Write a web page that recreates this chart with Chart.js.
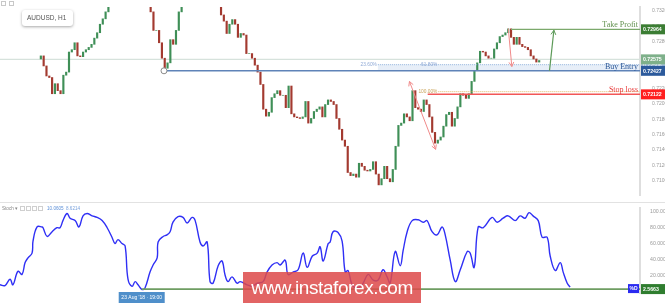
<!DOCTYPE html>
<html>
<head>
<meta charset="utf-8">
<script src="https://cdn.jsdelivr.net/npm/chart.js@4.4.0/dist/chart.umd.min.js"></script>
<style>
    body { margin: 0; background: #fff; width: 665px; height: 303px; overflow: hidden; position: relative; font-family: 'Liberation Sans', Arial, sans-serif; }
    #cajaPrecio { position: absolute; left: 0; top: 0; width: 665px; height: 202px; }
    #cajaStoch { position: absolute; left: 0; top: 202px; width: 665px; height: 101px; border-top: 1px solid #e2e2e2; box-sizing: border-box; }
    .simbolo { position: absolute; left: 22px; top: 10px; width: 51px; height: 16px; background: #fff; border-radius: 3px;
        box-shadow: 0 1px 3px rgba(0,0,0,.35); font-size: 6.5px; color: #555; line-height: 16px; padding-left: 5px; box-sizing: border-box; }
    .marca { position: absolute; left: 243px; top: 272px; width: 178px; height: 31px; background: rgba(221,74,74,.86);
        color: #fff; font-size: 19px; line-height: 31px; text-align: center; letter-spacing: -0.4px; }
</style>
</head>
<body>
<div id="cajaPrecio"><canvas id="chartPrecio" width="665" height="202"></canvas></div>
<div id="cajaStoch"><canvas id="chartStoch" width="665" height="100"></canvas></div>
<div class="simbolo">AUDUSD, H1</div>
<div class="marca">www.instaforex.com</div>
<script>
// Fuentes
const familia = "'Liberation Sans', Arial, sans-serif";
const familiaSerif = "'Liberation Serif', 'DejaVu Serif', serif";

// Eje de tiempo: días hábiles desde el 15 Ago (0 = 15 Ago 00:00)
const ejeMin = -0.55;
const ejeMax = 32.6;
const diasEtiquetas = [0, 3, 5, 7, 8, 10, 13, 15, 18, 20, 23, 25, 28, 30, 32];
const textosEtiquetas = ['15', '20', '22', '24', '27', '29', 'Sep', '5', '10', '12', '17', '19', '24', '26', '28'];

// Velas de 4 horas (cierres aproximados leídos del gráfico H1)
const inicioVelas = -0.5;
const pasoVela = 1 / 6;
const aperturaInicial = 0.7258;
const cierres = [
    0.7262, 0.7249, 0.7236, 0.7234, 0.7213, 0.7226, 0.7217, 0.7213, 0.7237, 0.7241, 0.7267, 0.7270, 0.7279, 0.7262, 0.7261, 0.7267, 0.7270, 0.7273, 0.7277, 0.7285, 0.7292,
    0.7303, 0.7310, 0.7319, 0.7328,
    0.7334, 0.7339, 0.7337, 0.7343, 0.7346, 0.7349, 0.7355, 0.7358, 0.7361, 0.7363, 0.7361, 0.7358, 0.7349, 0.7339,
    0.7319, 0.7295, 0.7295, 0.7279, 0.7259, 0.7246, 0.7253, 0.7283, 0.7277, 0.7295, 0.7319, 0.7331,
    0.7337, 0.7339, 0.7343, 0.7346, 0.7343, 0.7349, 0.7351, 0.7346, 0.7343, 0.7337, 0.7334, 0.7331, 0.7327,
    0.7315, 0.7307, 0.7291, 0.7303, 0.7309, 0.7303, 0.7286, 0.7291, 0.7289, 0.7265, 0.7265, 0.7259, 0.7250, 0.7241,
    0.7225, 0.7193, 0.7184, 0.7189, 0.7208, 0.7213, 0.7217, 0.7211, 0.7211, 0.7195, 0.7223, 0.7187, 0.7183, 0.7182, 0.7181, 0.7183,
    0.7203, 0.7175, 0.7181, 0.7190, 0.7193, 0.7196, 0.7183, 0.7199, 0.7205, 0.7203, 0.7199, 0.7181, 0.7167, 0.7153, 0.7145,
    0.7111, 0.7107, 0.7109, 0.7105, 0.7123, 0.7119, 0.7114, 0.7113, 0.7115, 0.7125, 0.7109, 0.7095, 0.7103, 0.7119, 0.7103, 0.7099,
    0.7115, 0.7145, 0.7172, 0.7175, 0.7187, 0.7183, 0.7178, 0.7217, 0.7195, 0.7193, 0.7190, 0.7205, 0.7199, 0.7183, 0.7163, 0.7149,
    0.7153, 0.7157, 0.7171, 0.7186, 0.7189, 0.7171, 0.7181, 0.7196, 0.7213, 0.7211, 0.7207, 0.7213, 0.7229, 0.7243, 0.7253,
    0.7268, 0.7267, 0.7262, 0.7259, 0.7259, 0.7271, 0.7279, 0.7287, 0.7289, 0.7292, 0.7297, 0.7286, 0.7277, 0.7286, 0.7277, 0.7274, 0.7273, 0.7270, 0.7262, 0.7258, 0.7254, 0.7256
];

// Estocástico %K
const diasStoch = [
    -0.55, -0.29, -0.03, 0.12, 0.38, 0.59, 0.75, 0.90, 1.11, 1.16, 1.37, 1.63, 1.68, 1.89, 2.15, 2.40, 2.56, 2.71, 2.92, 3.08,
    3.34, 3.54, 3.75, 3.96, 4.22, 4.48, 4.74, 5.00, 5.25, 5.41, 5.56, 5.77, 5.93, 6.08, 6.29, 6.45, 6.60, 6.81, 6.96, 7.22,
    7.38, 7.59, 7.64, 7.90, 8.10, 8.26, 8.41, 8.67, 8.93, 9.14, 9.40, 9.56, 9.81, 9.97, 10.18, 10.33, 10.49, 10.75, 10.95, 11.11,
    11.26, 11.47, 11.73, 11.89, 12.25, 12.51, 12.77, 13.08, 13.28, 13.54, 13.80, 13.96, 14.22, 14.37, 14.63, 14.89, 15.15, 15.36, 15.62, 15.88,
    16.03, 16.19, 16.45, 16.55, 16.70, 16.96, 17.17, 17.33, 17.48, 17.69, 17.95, 18.21, 18.52, 18.78, 19.04, 19.29, 19.50, 19.66, 19.92, 20.18,
    20.33, 20.54, 20.80, 21.11, 21.37, 21.57, 21.83, 22.09, 22.35, 22.51, 22.77, 23.03, 23.29, 23.65, 23.80, 24.01, 24.22, 24.48, 24.94, 25.20,
    25.51, 25.77, 26.13, 26.39, 26.65, 26.85, 27.06, 27.33, 27.53, 27.79, 27.95, 28.21, 28.47, 28.62, 28.83, 28.98
];
const valoresStoch = [
    8, 7, 15, 8, 25, 21, 36, 42, 48, 63, 81, 81, 80, 69, 75, 80, 80, 89, 98, 92,
    89, 81, 95, 98, 95, 93, 89, 80, 68, 60, 65, 60, 57, 15, 6, 12, 8, 2, 4, 24,
    33, 42, 62, 69, 71, 75, 87, 94, 93, 86, 93, 89, 62, 57, 62, 12, 10, 32, 38, 20,
    12, 18, 10, 12, 8, 6, 10, 12, 24, 33, 36, 33, 39, 21, 24, 27, 48, 30, 44, 48,
    56, 38, 60, 62, 75, 74, 63, 24, 26, 8, 4, 8, 21, 14, 14, 27, 18, 10, 50, 32,
    51, 75, 89, 90, 87, 89, 75, 71, 81, 71, 39, 12, 27, 50, 48, 30, 81, 80, 93, 87,
    92, 95, 89, 95, 92, 99, 95, 89, 68, 68, 44, 26, 36, 24, 10, 5
];

// Niveles dibujados
const nivelTakeProfit = 0.72964;
const nivelReferencia = 0.72575;
const nivelFib236 = 0.72506;
const nivelBuyEntry = 0.72427;
const nivelFib100 = 0.72157;
const nivelStopLoss = 0.72122;
const valorStochD = 2.5663;
const valorStochK = '10.0605';
const valorStochSlow = '8.6214';

// Tiempos de las herramientas (días hábiles)
const diaEntrada = 6.79;        // 23 Aug '18 19:00
const inicioFib1 = 19.45;
const inicioFib2 = 23.03;
const inicioStop = 22.40;
const inicioTake = 27.33;
const flechaVerde = [[29.61, 0.72427], [29.87, 0.72952]];
const flechaRoja = [[27.17, 0.72976], [27.38, 0.72482]];
const flechaDoble = [[21.32, 0.72289], [22.87, 0.71410]];

const aperturas = cierres.map((c, i) => i === 0 ? aperturaInicial : cierres[i - 1]);
const velas = cierres.map((c, i) => ({ x: inicioVelas + i * pasoVela, y: [aperturas[i], c] }));
const coloresVelas = cierres.map((c, i) => c >= aperturas[i] ? '#3f8f57' : '#a33a30');

function linea(ctx, x1, y1, x2, y2, color, ancho, guion) {
    ctx.save();
    ctx.strokeStyle = color;
    ctx.lineWidth = ancho;
    ctx.setLineDash(guion || []);
    ctx.beginPath();
    ctx.moveTo(x1, y1);
    ctx.lineTo(x2, y2);
    ctx.stroke();
    ctx.restore();
}

function punta(ctx, xa, ya, xb, yb, color) {
    // punta de flecha en (xb, yb)
    const ang = Math.atan2(yb - ya, xb - xa);
    ctx.save();
    ctx.strokeStyle = color;
    ctx.lineWidth = 1;
    ctx.beginPath();
    ctx.moveTo(xb - 5 * Math.cos(ang - 0.5), yb - 5 * Math.sin(ang - 0.5));
    ctx.lineTo(xb, yb);
    ctx.lineTo(xb - 5 * Math.cos(ang + 0.5), yb - 5 * Math.sin(ang + 0.5));
    ctx.stroke();
    ctx.restore();
}

function texto(ctx, t, x, y, color, fuente, alin) {
    ctx.save();
    ctx.fillStyle = color;
    ctx.font = fuente;
    ctx.textAlign = alin || 'left';
    ctx.textBaseline = 'middle';
    ctx.fillText(t, x, y);
    ctx.restore();
}

function etiquetaEje(ctx, t, x, y, fondo) {
    ctx.save();
    ctx.fillStyle = fondo;
    ctx.fillRect(x, y - 5, 24, 10);
    ctx.restore();
    texto(ctx, t, x + 2, y + 0.5, '#fff', 'bold 5.2px ' + familia);
}

const dibujoPrecio = {
    id: 'dibujoPrecio',
    beforeDatasetsDraw(chart) {
        const { ctx, chartArea: a, scales: { x, y } } = chart;
        // zona de entrada
        ctx.save();
        ctx.fillStyle = 'rgba(120,160,215,0.18)';
        ctx.fillRect(x.getPixelForValue(inicioFib1), y.getPixelForValue(nivelFib236), a.right - x.getPixelForValue(inicioFib1),
            y.getPixelForValue(nivelBuyEntry) - y.getPixelForValue(nivelFib236));
        ctx.restore();
        linea(ctx, a.left, y.getPixelForValue(nivelReferencia), a.right, y.getPixelForValue(nivelReferencia), '#d6e2dc', 1.2);
    },
    afterDatasetsDraw(chart) {
        const { ctx, chartArea: a, scales: { x, y } } = chart;
        const px = v => x.getPixelForValue(v);
        const py = v => y.getPixelForValue(v);

        linea(ctx, px(inicioFib1), py(nivelFib236), a.right, py(nivelFib236), '#8fb0dc', 1, [1, 1]);
        linea(ctx, px(inicioFib2), py(nivelFib100), a.right, py(nivelFib100), '#e2b866', 1, [1, 1]);
        linea(ctx, px(diaEntrada), py(nivelBuyEntry), a.right, py(nivelBuyEntry), '#5f83b8', 1.6);
        linea(ctx, px(inicioStop), py(nivelStopLoss), a.right, py(nivelStopLoss), '#f25757', 1.5);
        linea(ctx, px(inicioTake), py(nivelTakeProfit), a.right, py(nivelTakeProfit), '#7ba96b', 1.2);

        texto(ctx, '23.60%', px(inicioFib1) - 1, py(nivelFib236), '#8fa9d6', '4.8px ' + familia, 'right');
        texto(ctx, '61.80%', px(inicioFib2) - 1, py(nivelFib236), '#8fa9d6', '4.8px ' + familia, 'right');
        texto(ctx, '100.00%', px(inicioFib2) - 1, py(nivelFib100), '#c9a35a', '4.8px ' + familia, 'right');

        texto(ctx, 'Take Profit', a.right - 2, py(nivelTakeProfit) - 4, '#5f8f4c', '8px ' + familiaSerif, 'right');
        texto(ctx, 'Buy Entry', a.right - 2, py(nivelBuyEntry) - 3.5, '#2b5797', '8px ' + familiaSerif, 'right');
        texto(ctx, 'Stop loss', a.right - 2, py(nivelStopLoss) - 4, '#e83a3a', '8px ' + familiaSerif, 'right');

        // flechas
        const [v1, v2] = flechaVerde;
        linea(ctx, px(v1[0]), py(v1[1]), px(v2[0]), py(v2[1]), '#5c9a58', 1.2);
        punta(ctx, px(v1[0]), py(v1[1]), px(v2[0]), py(v2[1]), '#5c9a58');
        const [r1, r2] = flechaRoja;
        linea(ctx, px(r1[0]), py(r1[1]), px(r2[0]), py(r2[1]), '#f08a8a', 1);
        punta(ctx, px(r1[0]), py(r1[1]), px(r2[0]), py(r2[1]), '#f08a8a');
        const [d1, d2] = flechaDoble;
        linea(ctx, px(d1[0]), py(d1[1]), px(d2[0]), py(d2[1]), '#f08a8a', 1);
        punta(ctx, px(d1[0]), py(d1[1]), px(d2[0]), py(d2[1]), '#f08a8a');
        punta(ctx, px(d2[0]), py(d2[1]), px(d1[0]), py(d1[1]), '#f08a8a');

        // punto de anclaje
        ctx.save();
        ctx.beginPath();
        ctx.arc(px(diaEntrada), py(nivelBuyEntry), 3, 0, Math.PI * 2);
        ctx.fillStyle = '#fff';
        ctx.fill();
        ctx.strokeStyle = '#8a8a8a';
        ctx.lineWidth = 1;
        ctx.stroke();
        ctx.restore();
    },
    afterDraw(chart) {
        const { ctx, chartArea: a, scales: { y } } = chart;
        const xe = a.right + 1;
        etiquetaEje(ctx, nivelFib236.toFixed(5), xe, y.getPixelForValue(nivelFib236), '#a9c2dc');
        etiquetaEje(ctx, nivelTakeProfit.toFixed(5), xe, y.getPixelForValue(nivelTakeProfit), '#3b7d33');
        etiquetaEje(ctx, nivelReferencia.toFixed(5), xe, y.getPixelForValue(nivelReferencia), '#7eb08a');
        etiquetaEje(ctx, nivelBuyEntry.toFixed(5), xe, y.getPixelForValue(nivelBuyEntry), '#2c5a9c');
        etiquetaEje(ctx, nivelStopLoss.toFixed(5), xe, y.getPixelForValue(nivelStopLoss), '#ff1f1f');
        // iconos arriba a la izquierda
        ctx.save();
        ctx.strokeStyle = '#c8c8c8';
        ctx.strokeRect(1.5, 1.5, 4, 4);
        ctx.strokeRect(9.5, 1.5, 4, 4);
        ctx.restore();
    }
};

const dibujoStoch = {
    id: 'dibujoStoch',
    afterDatasetsDraw(chart) {
        const { ctx, chartArea: a, scales: { x, y } } = chart;
        linea(ctx, x.getPixelForValue(diaEntrada), y.getPixelForValue(valorStochD), a.right, y.getPixelForValue(valorStochD), '#6e9d62', 1.6);
    },
    afterDraw(chart) {
        const { ctx, chartArea: a, scales: { x, y } } = chart;
        const yd = y.getPixelForValue(valorStochD);
        // %D y valor
        ctx.save();
        ctx.fillStyle = '#2a2af0';
        ctx.fillRect(a.right - 12, yd - 5, 11, 9);
        ctx.restore();
        texto(ctx, '%D', a.right - 6.5, yd - 0.5, '#fff', 'bold 5px ' + familia, 'center');
        etiquetaEje(ctx, valorStochD.toFixed(4), a.right + 1, yd, '#2f7d2f');

        // cabecera
        texto(ctx, 'Stoch ▾', 2, 5.5, '#888', '4.6px ' + familia);
        ctx.save();
        ctx.strokeStyle = '#cfcfcf';
        [20, 26, 32, 38].forEach(xx => ctx.strokeRect(xx + 0.5, 3.5, 4, 4));
        ctx.restore();
        texto(ctx, valorStochK, 47, 5.5, '#5b8fd8', '4.6px ' + familia);
        texto(ctx, valorStochSlow, 66, 5.5, '#7aa2dc', '4.6px ' + familia);

        // fecha del cursor
        const xc = x.getPixelForValue(diaEntrada);
        ctx.save();
        ctx.fillStyle = '#4f8fca';
        ctx.fillRect(xc - 23, a.bottom - 1, 46, 12);
        ctx.restore();
        texto(ctx, "23 Aug '18 \u00b7 19:00", xc, a.bottom + 5, '#fff', '5px ' + familia, 'center');
    }
};

new Chart(document.getElementById('chartPrecio'), {
    type: 'bar',
    data: {
        datasets: [{
            data: velas,
            backgroundColor: coloresVelas,
            borderWidth: 0,
            barThickness: 1.5
        }]
    },
    options: {
        responsive: false,
        animation: false,
        layout: { padding: 0, autoPadding: false },
        plugins: { legend: { display: false }, tooltip: { enabled: false } },
        scales: {
            x: { type: 'linear', min: ejeMin, max: ejeMax, display: false },
            y: {
                position: 'right',
                min: 0.70819,
                max: 0.73253,
                afterFit: s => { s.width = 25; },
                grid: { display: false },
                border: { display: true, color: '#dedede', width: 2 },
                ticks: {
                    stepSize: 0.002,
                    includeBounds: false,
                    padding: 4,
                    color: '#9a9a9a',
                    font: { size: 5, family: familia },
                    callback: v => v.toFixed(5)
                }
            }
        }
    },
    plugins: [dibujoPrecio]
});

new Chart(document.getElementById('chartStoch'), {
    type: 'line',
    data: {
        datasets: [{
            data: diasStoch.map((d, i) => ({ x: d, y: valoresStoch[i] })),
            borderColor: '#2f2ff5',
            borderWidth: 1.4,
            tension: 0.4,
            pointRadius: 0,
            fill: false
        }]
    },
    options: {
        responsive: false,
        animation: false,
        layout: { padding: 0, autoPadding: false },
        plugins: { legend: { display: false }, tooltip: { enabled: false } },
        scales: {
            x: {
                type: 'linear',
                min: ejeMin,
                max: ejeMax,
                afterFit: s => { s.height = 10; },
                afterBuildTicks: s => { s.ticks = diasEtiquetas.map(v => ({ value: v })); },
                grid: { display: false },
                border: { display: false },
                ticks: {
                    autoSkip: false,
                    maxRotation: 0,
                    padding: 2,
                    color: '#9a9a9a',
                    font: { size: 5.2, family: familia },
                    callback: (v, i) => textosEtiquetas[i]
                }
            },
            y: {
                position: 'right',
                min: -2.38,
                max: 104.76,
                afterFit: s => { s.width = 25; },
                grid: { display: false },
                border: { display: true, color: '#dedede', width: 2 },
                ticks: {
                    stepSize: 20,
                    includeBounds: false,
                    padding: 2,
                    color: '#9a9a9a',
                    font: { size: 5.2, family: familia },
                    callback: v => v.toFixed(4)
                }
            }
        }
    },
    plugins: [dibujoStoch]
});
</script>
</body>
</html>
